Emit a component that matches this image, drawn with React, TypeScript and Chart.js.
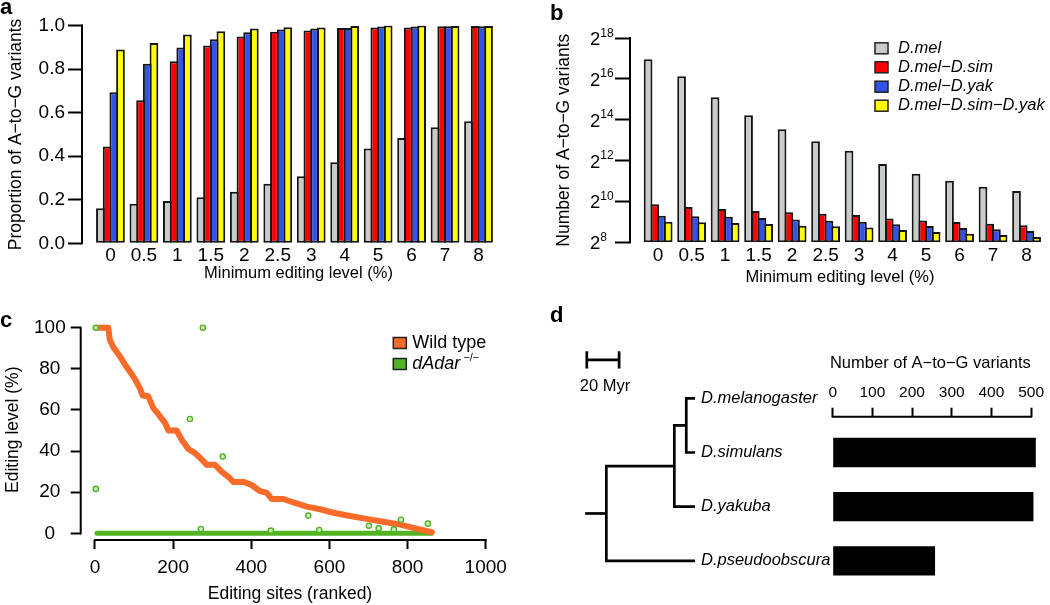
import React, { useEffect, useRef } from 'react';
import { Chart, registerables } from 'chart.js';

Chart.register(...registerables);

const FONT = "'Liberation Sans', Arial, Helvetica, sans-serif";
const M = '\u2212';
Chart.defaults.font.family = FONT;
Chart.defaults.color = '#000';

// ---------- Panels a & b ----------
const levelLabels = ['0', '0.5', '1', '1.5', '2', '2.5', '3', '4', '5', '6', '7', '8'];
const seriesNames = ['D.mel', `D.mel${M}D.sim`, `D.mel${M}D.yak`, `D.mel${M}D.sim${M}D.yak`];
const seriesColors = ['#C7CCCA', '#FF0000', '#3352E8', '#FFFF00'];

const propMel = [0.161, 0.182, 0.194, 0.211, 0.237, 0.273, 0.308, 0.372, 0.435, 0.484, 0.533, 0.56];
const propMelSim = [0.444, 0.657, 0.836, 0.908, 0.949, 0.971, 0.977, 0.989, 0.991, 0.991, 0.997, 0.998];
const propMelYak = [0.694, 0.824, 0.899, 0.937, 0.969, 0.982, 0.986, 0.989, 0.995, 0.995, 0.997, 0.997];
const propMelSimYak = [0.89, 0.92, 0.959, 0.974, 0.986, 0.992, 0.991, 0.998, 1.0, 1.0, 0.998, 0.998];
const propTicks = [0, 0.2, 0.4, 0.6, 0.8, 1.0];

const countMel = [127500, 71700, 35100, 19100, 11900, 7910, 5710, 3640, 2630, 2060, 1690, 1460];
const countMelSim = [929, 849, 792, 739, 709, 676, 648, 576, 538, 508, 481, 455];
const countMelYak = [630, 617, 609, 584, 556, 534, 516, 471, 446, 416, 399, 375];
const countMelSimYak = [516, 505, 491, 478, 449, 440, 422, 388, 362, 343, 329, 306];
const log2Exponents = [8, 10, 12, 14, 16, 18];

// ---------- Panel c ----------
const wildTypeRank = [5, 34, 38, 47, 64, 77, 90, 102, 115, 122, 136, 149, 166, 180, 188, 209, 222, 239, 256, 270, 286, 307, 324, 346, 354, 380, 401, 422, 439, 452, 482, 508, 542, 576, 610, 653, 695, 738, 781, 823, 862];
const wildTypeLevel = [100, 100, 94, 90.5, 86, 82, 78.5, 75, 70.5, 67, 66.7, 61, 57, 53.5, 50, 50, 45.5, 41, 39, 36.5, 33.3, 33.3, 30, 26.7, 25, 25, 23.5, 20.5, 19.8, 16.7, 16.7, 15, 13, 11.7, 10, 8.4, 7, 5.6, 4.2, 2.3, 0.5];
const dAdarRank = [2, 2, 243, 271, 276, 327, 450, 546, 574, 701, 726, 765, 783, 852];
const dAdarLevel = [100, 21.6, 55.6, 2.1, 100, 37.3, 1.3, 8.6, 1.6, 3.7, 2.4, 1.9, 6.6, 4.7];
const dAdarZeroRank = [5, 862];
const dAdarZeroLevel = [0, 0];
const rankTicks = [0, 200, 400, 600, 800, 1000];
const levelTicks = [0, 20, 40, 60, 80, 100];

// ---------- Panel d ----------
const species = ['D.melanogaster', 'D.simulans', 'D.yakuba', 'D.pseudoobscura'];
const melSimAge = 5.4;
const melYakAge = 12.8;
const melPseAge = 54.9;
const rootStubAge = 68;
const scaleBarMyr = 20;
const barSpecies = ['D.simulans', 'D.yakuba', 'D.pseudoobscura'];
const sharedVariants = [512, 506, 258];
const variantTicks = [0, 100, 200, 300, 400, 500];

// ---------- helpers ----------
type Seg = { t: string; size: number; italic?: boolean; bold?: boolean; dy?: number };
const segFont = (s: Seg) => `${s.italic ? 'italic ' : ''}${s.bold ? 'bold ' : ''}${s.size}px ${FONT}`;

function drawSegs(ctx: CanvasRenderingContext2D, segs: Seg[], x: number, y: number, baseline: CanvasTextBaseline = 'alphabetic', align: 'left' | 'center' = 'left') {
  ctx.textBaseline = baseline;
  ctx.textAlign = 'left';
  ctx.fillStyle = '#000';
  let total = 0;
  segs.forEach((s) => { ctx.font = segFont(s); total += ctx.measureText(s.t).width; });
  let cx = align === 'center' ? x - total / 2 : x;
  segs.forEach((s) => {
    ctx.font = segFont(s);
    ctx.fillText(s.t, cx, y + (s.dy || 0));
    cx += ctx.measureText(s.t).width;
  });
}

function textPlugin(items: { segs: Seg[]; x: number; y: number; baseline?: CanvasTextBaseline; align?: 'left' | 'center' }[]) {
  return {
    id: 'texts',
    afterDraw(chart: any) {
      const ctx = chart.ctx;
      ctx.save();
      items.forEach((it) => drawSegs(ctx, it.segs, it.x, it.y, it.baseline || 'alphabetic', it.align || 'left'));
      ctx.restore();
    },
  };
}

function legendPlugin(entries: { segs: Seg[]; color: string }[], boxX: number, boxW: number, boxH: number, textX: number, rowYs: number[]) {
  return {
    id: 'customLegend',
    afterDraw(chart: any) {
      const ctx = chart.ctx;
      ctx.save();
      entries.forEach((e, i) => {
        const cy = rowYs[i];
        ctx.fillStyle = e.color;
        ctx.fillRect(boxX, cy - boxH / 2, boxW, boxH);
        ctx.strokeStyle = '#222';
        ctx.lineWidth = 1.5;
        ctx.strokeRect(boxX, cy - boxH / 2, boxW, boxH);
        drawSegs(ctx, e.segs, textX, cy, 'middle');
      });
      ctx.restore();
    },
  };
}

function rAxisPlugin(ids: string[], width = 2) {
  return {
    id: 'rAxis',
    afterDraw(chart: any) {
      const ctx = chart.ctx;
      ctx.save();
      ctx.strokeStyle = '#000';
      ctx.lineWidth = width;
      ctx.lineCap = 'square';
      ids.forEach((id) => {
        const s = chart.scales[id];
        const t = s.ticks;
        const a = s.getPixelForValue(t[0].value);
        const b = s.getPixelForValue(t[t.length - 1].value);
        ctx.beginPath();
        if (s.isHorizontal()) {
          const y = s.position === 'top' ? s.bottom : s.top;
          ctx.moveTo(a, y); ctx.lineTo(b, y);
        } else {
          const x = s.right;
          ctx.moveTo(x, a); ctx.lineTo(x, b);
        }
        ctx.stroke();
      });
      ctx.restore();
    },
  };
}

function baseOptions(): any {
  return {
    responsive: false,
    animation: false,
    devicePixelRatio: 1,
    events: [],
    plugins: { legend: { display: false }, tooltip: { enabled: false } },
  };
}

const tickGrid = (len: number) => ({ display: true, offset: false, drawOnChartArea: false, drawTicks: true, tickLength: len, tickWidth: 2, tickColor: '#000' });

function groupedDatasets(values: number[][]) {
  return values.map((vals, k) => ({
    label: seriesNames[k],
    data: vals.map((v, i) => ({ x: i, y: v })),
    backgroundColor: seriesColors[k],
    borderColor: '#141414',
    borderWidth: 2,
    borderSkipped: false,
    categoryPercentage: 0.8,
    barPercentage: 1.3,
  }));
}

function levelXAxis(min: number, max: number, height: number, tickPad: number, titlePadBottom: number): any {
  return {
    type: 'linear',
    offset: false,
    min,
    max,
    afterBuildTicks: (s: any) => { s.ticks = levelLabels.map((_, i) => ({ value: i })); },
    afterFit: (s: any) => { s.height = height; },
    grid: { display: false, drawTicks: false, offset: false },
    border: { display: false },
    ticks: { callback: (v: number) => levelLabels[v], autoSkip: false, maxRotation: 0, padding: tickPad, color: '#000', font: { size: 19 } },
    title: { display: true, text: 'Minimum editing level (%)', color: '#000', font: { size: 16.5 }, padding: { top: 0, bottom: titlePadBottom } },
  };
}

function configA(): any {
  const opts = baseOptions();
  opts.layout = { padding: { top: 25.5, right: 5, left: 0, bottom: 0 } };
  opts.scales = {
    x: levelXAxis(-0.85, 12.09, 56.7, 1.5, 17),
    y: {
      min: 0,
      max: 1,
      afterBuildTicks: (s: any) => { s.ticks = propTicks.map((v) => ({ value: v })); },
      afterFit: (s: any) => { s.width = 82; },
      grid: tickGrid(14),
      border: { display: false },
      ticks: { callback: (v: number) => v.toFixed(1), padding: 3, color: '#000', font: { size: 19 } },
      title: { display: true, text: `Proportion of A${M}to${M}G variants`, color: '#000', font: { size: 17.5 }, padding: { top: 6, bottom: 0 } },
    },
  };
  return {
    type: 'bar',
    data: { datasets: groupedDatasets([propMel, propMelSim, propMelYak, propMelSimYak]) },
    options: opts,
    plugins: [rAxisPlugin(['y']), textPlugin([{ segs: [{ t: 'a', size: 22, bold: true }], x: 0, y: 14 }])],
  };
}

const log2LabelPlugin = {
  id: 'log2Labels',
  afterDraw(chart: any) {
    const s = chart.scales.y;
    const ctx = chart.ctx;
    ctx.save();
    log2Exponents.forEach((e) => {
      const py = s.getPixelForValue(2 ** e);
      drawSegs(ctx, [{ t: '2', size: 18.5 }, { t: String(e), size: 12, dy: -8.5 }], s.right - 40, py + 7, 'alphabetic');
    });
    ctx.restore();
  },
};

function configB(): any {
  const opts = baseOptions();
  opts.layout = { padding: { top: 38, right: 0, left: 0, bottom: 0 } };
  opts.scales = {
    x: levelXAxis(-0.84, 11.7, 57.7, 2.5, 13),
    y: {
      type: 'logarithmic',
      min: 2 ** 8,
      max: 2 ** 18,
      afterBuildTicks: (s: any) => { s.ticks = log2Exponents.map((e) => ({ value: 2 ** e })); },
      afterFit: (s: any) => { s.width = 110; },
      grid: tickGrid(15),
      border: { display: false },
      ticks: { display: false },
      title: { display: true, text: `Number of A${M}to${M}G variants`, color: '#000', font: { size: 17.5 }, padding: { top: 34, bottom: 0 } },
    },
  };
  return {
    type: 'bar',
    data: { datasets: groupedDatasets([countMel, countMelSim, countMelYak, countMelSimYak]) },
    options: opts,
    plugins: [
      rAxisPlugin(['y']),
      log2LabelPlugin,
      legendPlugin(
        seriesNames.map((n, i) => ({ segs: [{ t: n, size: 16.5, italic: true }], color: seriesColors[i] })),
        355, 13, 11, 378, [48.3, 67.3, 86.7, 105.7]
      ),
      textPlugin([{ segs: [{ t: 'b', size: 22, bold: true }], x: 30, y: 20 }]),
    ],
  };
}

const ORANGE = '#FA6A28';
const GREEN = '#52B324';

function configC(): any {
  const opts = baseOptions();
  opts.layout = { padding: { top: 19.5, right: 20.7, left: 0, bottom: 0 } };
  opts.scales = {
    x: {
      type: 'linear',
      min: -36.6,
      max: 1034.8,
      afterBuildTicks: (s: any) => { s.ticks = rankTicks.map((v) => ({ value: v })); },
      afterFit: (s: any) => { s.height = 65; },
      grid: tickGrid(9),
      border: { display: false },
      ticks: { callback: (v: number) => String(v), padding: 7.5, color: '#000', maxRotation: 0, autoSkip: false, font: { size: 19 } },
      title: { display: true, text: 'Editing sites (ranked)', color: '#000', font: { size: 17.5 }, padding: { top: 0, bottom: 0 } },
    },
    y: {
      type: 'linear',
      min: -3.26,
      max: 104,
      afterBuildTicks: (s: any) => { s.ticks = levelTicks.map((v) => ({ value: v })); },
      afterFit: (s: any) => { s.width = 80.7; },
      grid: tickGrid(10),
      border: { display: false },
      ticks: { callback: (v: number) => String(v), padding: 5, crossAlign: 'center', color: '#000', font: { size: 19 } },
      title: { display: true, text: 'Editing level (%)', color: '#000', font: { size: 17.5 }, padding: { top: 3, bottom: 0 } },
    },
  };
  return {
    type: 'scatter',
    data: {
      datasets: [
        {
          label: 'dAdar-/- outliers',
          data: dAdarRank.map((x, i) => ({ x, y: dAdarLevel[i] })),
          showLine: false,
          pointRadius: 2.6,
          pointBorderWidth: 1.4,
          pointBorderColor: GREEN,
          pointBackgroundColor: 'rgba(200,235,180,0.9)',
        },
        {
          label: 'Wild type',
          data: wildTypeRank.map((x, i) => ({ x, y: wildTypeLevel[i] })),
          showLine: true,
          pointRadius: 0,
          borderColor: ORANGE,
          borderWidth: 6,
          borderCapStyle: 'round',
          borderJoinStyle: 'round',
        },
        {
          label: 'dAdar-/-',
          data: dAdarZeroRank.map((x, i) => ({ x, y: dAdarZeroLevel[i] })),
          showLine: true,
          pointRadius: 0,
          borderColor: GREEN,
          borderWidth: 5,
          borderCapStyle: 'round',
        },
      ],
    },
    options: opts,
    plugins: [
      rAxisPlugin(['x', 'y']),
      legendPlugin(
        [
          { segs: [{ t: 'Wild type', size: 18 }], color: ORANGE },
          { segs: [{ t: 'dAdar', size: 18, italic: true }, { t: ` ${M}/${M}`, size: 11, dy: -6 }], color: GREEN },
        ],
        393.3, 13, 11, 412.3, [43, 64]
      ),
      textPlugin([{ segs: [{ t: 'c', size: 22, bold: true }], x: 0, y: 27 }]),
    ],
  };
}

function treeLines(): { x: number; y: number }[][] {
  const p = (x: number, y: number) => ({ x, y });
  const melSimRow = 0.5;
  const melYakRow = (melSimRow + 2) / 2;
  const rootRow = (melYakRow + 3) / 2;
  return [
    [p(0, 0), p(melSimAge, 0), p(melSimAge, 1), p(0, 1)],
    [p(melSimAge, melSimRow), p(melYakAge, melSimRow), p(melYakAge, 2), p(0, 2)],
    [p(melYakAge, melYakRow), p(melPseAge, melYakRow), p(melPseAge, 3), p(0, 3)],
    [p(rootStubAge, rootRow), p(melPseAge, rootRow)],
  ];
}

const SCALE_START = 67;
const SCALE_ROW = -0.71;

function configTree(): any {
  const opts = baseOptions();
  opts.layout = { padding: 0 };
  opts.scales = {
    x: { type: 'linear', display: false, reverse: true, min: -83.6, max: 95.98 },
    y: { type: 'linear', display: false, reverse: true, min: -1.8137, max: 3.8137 },
  };
  const lineDs = (data: { x: number; y: number }[]) => ({
    data,
    showLine: true,
    pointRadius: 0,
    borderColor: '#000',
    borderWidth: 2.7,
    borderCapStyle: 'butt',
    borderJoinStyle: 'miter',
  });
  const sb = [
    [{ x: SCALE_START, y: SCALE_ROW - 0.16 }, { x: SCALE_START, y: SCALE_ROW + 0.16 }],
    [{ x: SCALE_START, y: SCALE_ROW }, { x: SCALE_START - scaleBarMyr, y: SCALE_ROW }],
    [{ x: SCALE_START - scaleBarMyr, y: SCALE_ROW - 0.16 }, { x: SCALE_START - scaleBarMyr, y: SCALE_ROW + 0.16 }],
  ];
  const labels = {
    id: 'treeLabels',
    afterDraw(chart: any) {
      const xs = chart.scales.x;
      const ys = chart.scales.y;
      const ctx = chart.ctx;
      ctx.save();
      species.forEach((s, i) => {
        drawSegs(ctx, [{ t: s, size: 16.5, italic: true }], xs.getPixelForValue(0) + 6, ys.getPixelForValue(i), 'middle');
      });
      const cx = (xs.getPixelForValue(SCALE_START) + xs.getPixelForValue(SCALE_START - scaleBarMyr)) / 2 + 2;
      drawSegs(ctx, [{ t: `${scaleBarMyr} Myr`, size: 16.5 }], cx, ys.getPixelForValue(SCALE_ROW) + 27, 'middle', 'center');
      ctx.restore();
    },
  };
  return {
    type: 'scatter',
    data: { datasets: [...treeLines().map(lineDs), ...sb.map(lineDs)] },
    options: opts,
    plugins: [labels, textPlugin([{ segs: [{ t: 'd', size: 22, bold: true }], x: 10, y: 22 }])],
  };
}

function configBars(): any {
  const opts = baseOptions();
  opts.indexAxis = 'y';
  opts.layout = { padding: 0 };
  opts.scales = {
    x: {
      type: 'linear',
      position: 'top',
      offset: false,
      min: -44.6,
      max: 537,
      afterBuildTicks: (s: any) => { s.ticks = variantTicks.map((v) => ({ value: v })); },
      afterFit: (s: any) => { s.height = 86.7; },
      grid: tickGrid(9),
      border: { display: false },
      ticks: { padding: 6, color: '#000', maxRotation: 0, autoSkip: false, font: { size: 15.5 } },
      title: { display: true, text: `Number of A${M}to${M}G variants`, color: '#000', font: { size: 16.5 }, padding: { top: 23.7, bottom: 0 } },
    },
    y: {
      type: 'linear',
      display: false,
      offset: false,
      reverse: true,
      min: 0.3395,
      max: 3.814,
      afterBuildTicks: (s: any) => { s.ticks = species.map((_, i) => ({ value: i })); },
      grid: { offset: false },
    },
  };
  return {
    type: 'bar',
    data: {
      datasets: [
        {
          label: 'Number of A-to-G variants',
          data: barSpecies.map((s, i) => ({ x: sharedVariants[i], y: species.indexOf(s) })),
          backgroundColor: '#000',
          borderWidth: 0,
          categoryPercentage: 0.54,
          barPercentage: 1,
        },
      ],
    },
    options: opts,
    plugins: [rAxisPlugin(['x'])],
  };
}

export default function App() {
  const aRef = useRef<HTMLCanvasElement>(null);
  const bRef = useRef<HTMLCanvasElement>(null);
  const cRef = useRef<HTMLCanvasElement>(null);
  const tRef = useRef<HTMLCanvasElement>(null);
  const dRef = useRef<HTMLCanvasElement>(null);

  useEffect(() => {
    const charts: Chart[] = [];
    charts.push(new Chart(aRef.current as HTMLCanvasElement, configA()));
    charts.push(new Chart(bRef.current as HTMLCanvasElement, configB()));
    charts.push(new Chart(cRef.current as HTMLCanvasElement, configC()));
    charts.push(new Chart(tRef.current as HTMLCanvasElement, configTree()));
    charts.push(new Chart(dRef.current as HTMLCanvasElement, configBars()));
    return () => charts.forEach((c) => c.destroy());
  }, []);

  const box = (left: number, top: number, w: number, h: number): React.CSSProperties => ({
    position: 'absolute', left, top, width: w, height: h, display: 'block',
  });

  return (
    <div style={{ position: 'absolute', left: 0, top: 0, width: 1050, height: 605, background: '#fff', overflow: 'hidden' }}>
      <canvas ref={aRef} width={520} height={300} style={box(0, 0, 520, 300)} />
      <canvas ref={bRef} width={530} height={300} style={box(520, 0, 530, 300)} />
      <canvas ref={cRef} width={520} height={305} style={box(0, 300, 520, 305)} />
      <canvas ref={tRef} width={290} height={305} style={box(540, 300, 290, 305)} />
      <canvas ref={dRef} width={235} height={275} style={box(815, 330, 235, 275)} />
    </div>
  );
}
